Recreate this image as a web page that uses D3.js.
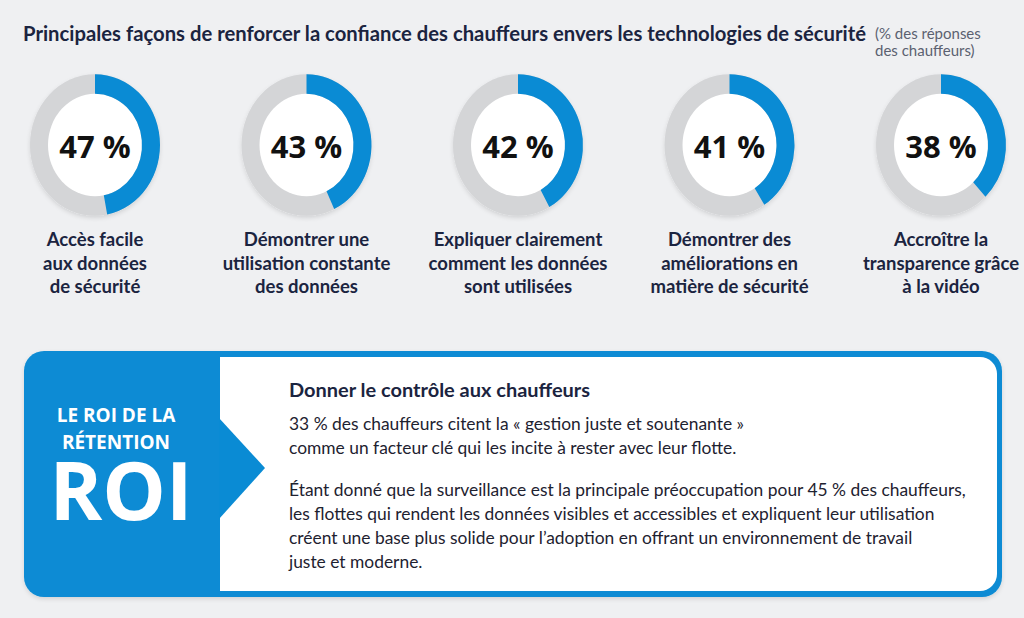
<!DOCTYPE html>
<html>
<head>
<meta charset="utf-8">
<script src="https://cdn.jsdelivr.net/npm/d3@7"></script>
<style>
  html, body { margin: 0; padding: 0; background: #eff0f2; }
  svg { display: block; }
</style>
</head>
<body>
<div id="chart"></div>
<script>
// data
const categories = [
  "Accès facile aux données de sécurité",
  "Démontrer une utilisation constante des données",
  "Expliquer clairement comment les données sont utilisées",
  "Démontrer des améliorations en matière de sécurité",
  "Accroître la transparence grâce à la vidéo"
];
const labelLines = [
  ["Accès facile", "aux données", "de sécurité"],
  ["Démontrer une", "utilisation constante", "des données"],
  ["Expliquer clairement", "comment les données", "sont utilisées"],
  ["Démontrer des", "améliorations en", "matière de sécurité"],
  ["Accroître la", "transparence grâce", "à la vidéo"]
];
const values = [47, 43, 42, 41, 38];

const title = "Principales façons de renforcer la confiance des chauffeurs envers les technologies de sécurité";
const subtitleLines = ["(% des réponses", "des chauffeurs)"];
const roiHeadLines = ["LE ROI DE LA", "RÉTENTION"];
const roiBig = "ROI";
const boxTitle = "Donner le contrôle aux chauffeurs";
const para1 = [
  "33 % des chauffeurs citent la « gestion juste et soutenante »",
  "comme un facteur clé qui les incite à rester avec leur flotte."
];
const para2 = [
  "Étant donné que la surveillance est la principale préoccupation pour 45 % des chauffeurs,",
  "les flottes qui rendent les données visibles et accessibles et expliquent leur utilisation",
  "créent une base plus solide pour l’adoption en offrant un environnement de travail",
  "juste et moderne."
];

const width = 1024;
const height = 618;
const blue = "#0a8bd4";
const grey = "#d4d5d7";
const navy = "#1b2440";

const svg = d3.select("#chart").append("svg")
  .attr("width", width)
  .attr("height", height);

svg.append("rect")
  .attr("width", width)
  .attr("height", height)
  .attr("fill", "#eff0f2");

const defs = svg.append("defs");
const shadow = defs.append("filter").attr("id", "soft")
  .attr("x", "-20%").attr("y", "-20%").attr("width", "140%").attr("height", "140%");
shadow.append("feDropShadow")
  .attr("dx", 0).attr("dy", 2).attr("stdDeviation", 2)
  .attr("flood-color", "#000").attr("flood-opacity", 0.12);

// title
svg.append("text")
  .attr("x", 23)
  .attr("y", 41)
  .attr("textLength", 843)
  .attr("lengthAdjust", "spacingAndGlyphs")
  .attr("font-family", "Lato, 'Open Sans', sans-serif")
  .attr("font-weight", 700)
  .attr("font-size", 20)
  .attr("fill", navy)
  .text(title);

svg.append("g")
  .selectAll("text")
  .data(subtitleLines)
  .join("text")
  .attr("x", 875)
  .attr("y", (d, i) => 39 + i * 17)
  .attr("font-family", "Lato, 'Open Sans', sans-serif")
  .attr("font-size", 15)
  .attr("fill", "#5b6170")
  .text(d => d);

// donuts
const x = d3.scalePoint()
  .domain(categories)
  .range([95, 941]);

const angle = d3.scaleLinear()
  .domain([0, 100])
  .range([0, 2 * Math.PI]);

const outerR = 65;
const innerR = 47;
const cy = 145;
const squash = 1.09;

const arc = d3.arc()
  .innerRadius(innerR)
  .outerRadius(outerR);

const donuts = svg.append("g")
  .selectAll("g.donut")
  .data(categories.map((c, i) => ({ cat: c, value: values[i], lines: labelLines[i] })))
  .join("g")
  .attr("class", "donut")
  .attr("transform", d => "translate(" + x(d.cat) + "," + cy + ")");

const ring = donuts.append("g")
  .attr("transform", "scale(1," + squash + ")");

ring.append("circle")
  .attr("r", outerR)
  .attr("fill", grey)
  .attr("filter", "url(#soft)");

ring.append("circle")
  .attr("r", innerR)
  .attr("fill", "#ffffff");

ring.append("path")
  .attr("fill", blue)
  .attr("d", d => arc({ startAngle: 0, endAngle: angle(d.value) }));

donuts.append("text")
  .attr("y", 13)
  .attr("text-anchor", "middle")
  .attr("font-family", "'Open Sans', Lato, sans-serif")
  .attr("font-weight", 700)
  .attr("font-size", 31)
  .attr("fill", "#111")
  .text(d => d.value + " %");

donuts.append("g")
  .selectAll("text")
  .data(d => d.lines)
  .join("text")
  .attr("y", (d, i) => 101 + i * 23.5)
  .attr("text-anchor", "middle")
  .attr("font-family", "Lato, 'Open Sans', sans-serif")
  .attr("font-weight", 700)
  .attr("font-size", 18.5)
  .attr("fill", navy)
  .text(d => d);

// ROI panel
const panel = svg.append("g");

panel.append("rect")
  .attr("x", 24)
  .attr("y", 351)
  .attr("width", 978)
  .attr("height", 246)
  .attr("rx", 20)
  .attr("fill", blue)
  .attr("filter", "url(#soft)");

const ix = 220, iy = 357, iw = 777, ih = 234, ir = 17;
panel.append("path")
  .attr("fill", "#ffffff")
  .attr("d",
    "M" + ix + "," + iy +
    "H" + (ix + iw - ir) +
    "A" + ir + "," + ir + " 0 0 1 " + (ix + iw) + "," + (iy + ir) +
    "V" + (iy + ih - ir) +
    "A" + ir + "," + ir + " 0 0 1 " + (ix + iw - ir) + "," + (iy + ih) +
    "H" + ix + "Z");

panel.append("path")
  .attr("fill", blue)
  .attr("d", "M219,418 L265,468 L219,519 Z");

panel.append("g")
  .selectAll("text")
  .data(roiHeadLines)
  .join("text")
  .attr("x", 116)
  .attr("y", (d, i) => 422 + i * 27)
  .attr("text-anchor", "middle")
  .attr("font-family", "'Open Sans', Lato, sans-serif")
  .attr("font-weight", 700)
  .attr("font-size", 19)
  .attr("fill", "#ffffff")
  .text(d => d);

panel.append("text")
  .attr("x", 121)
  .attr("y", 520)
  .attr("text-anchor", "middle")
  .attr("font-family", "'Open Sans', Lato, sans-serif")
  .attr("font-weight", 700)
  .attr("font-size", 80)
  .attr("fill", "#ffffff")
  .text(roiBig);

panel.append("text")
  .attr("x", 289)
  .attr("y", 397)
  .attr("textLength", 301)
  .attr("lengthAdjust", "spacingAndGlyphs")
  .attr("font-family", "Lato, 'Open Sans', sans-serif")
  .attr("font-weight", 700)
  .attr("font-size", 18)
  .attr("fill", navy)
  .text(boxTitle);

panel.append("g")
  .selectAll("text")
  .data(para1)
  .join("text")
  .attr("x", 289)
  .attr("y", (d, i) => 430 + i * 24)
  .attr("font-family", "Lato, 'Open Sans', sans-serif")
  .attr("font-size", 17.4)
  .attr("fill", "#1e2230")
  .text(d => d);

panel.append("g")
  .selectAll("text")
  .data(para2)
  .join("text")
  .attr("x", 289)
  .attr("y", (d, i) => 496 + i * 24)
  .attr("font-family", "Lato, 'Open Sans', sans-serif")
  .attr("font-size", 17.4)
  .attr("fill", "#1e2230")
  .text(d => d);
</script>
</body>
</html>
